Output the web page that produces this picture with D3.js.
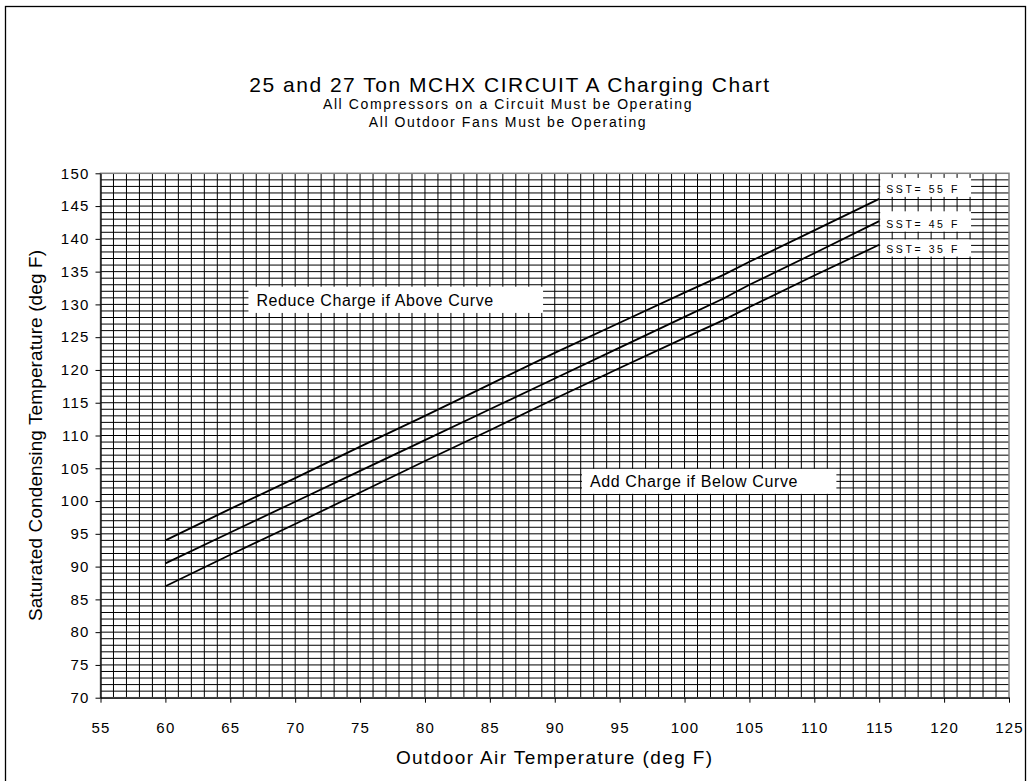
<!DOCTYPE html>
<html>
<head>
<meta charset="utf-8">
<script src="https://cdn.jsdelivr.net/npm/d3@7"></script>
<style>
  body { margin: 0; background: #fff; }
  svg { display: block; font-family: "Liberation Sans", Arial, sans-serif; }
</style>
</head>
<body>
<div id="chart"></div>
<script>
// chart data
const oat = [60, 65, 70, 75, 80, 85, 90, 95, 100, 103, 105, 110, 115];
const sst35 = [87.0, 91.8, 96.5, 101.3, 106.1, 110.8, 115.6, 120.3, 124.9, 127.6, 129.6, 134.4, 139.1];
const sst45 = [90.5, 95.2, 99.9, 104.6, 109.3, 114.0, 118.7, 123.4, 128.1, 130.9, 133.0, 137.8, 142.7];
const sst55 = [94.0, 98.8, 103.5, 108.3, 113.0, 117.8, 122.6, 127.2, 131.8, 134.5, 136.5, 141.3, 146.1];
const seriesNames = ["SST= 55 F", "SST= 45 F", "SST= 35 F"];

const xTicks = d3.range(55, 126, 5);
const yTicks = d3.range(70, 151, 5);

// annotation boxes, in data units [x1, x2, yTop, yBottom]
const seriesLabelBoxes = [
  [115, 122.0, 149.3, 146.4],
  [115, 122.0, 144.2, 141.1],
  [115, 122.0, 139.9, 137.3]
];
const noteTexts = ["Reduce Charge if Above Curve", "Add Charge if Below Curve"];
const noteBoxes = [
  [66.4, 89.1, 132.7, 128.7],
  [92.1, 111.7, 104.9, 101.1]
];

const width = 1032, height = 781;
const margin = { top: 173.3, right: 23, bottom: 83.3, left: 100.5 };

const svg = d3.select("#chart").append("svg")
  .attr("width", width)
  .attr("height", height);

// outer frame
svg.append("rect")
  .attr("x", 5.5).attr("y", 6.5)
  .attr("width", 1020).attr("height", 790)
  .attr("fill", "none")
  .attr("stroke", "#000")
  .attr("stroke-width", 1.3);

const x = d3.scaleLinear()
  .domain([55, 125])
  .range([margin.left, width - margin.right]);

const y = d3.scaleLinear()
  .domain([70, 150])
  .range([height - margin.bottom, margin.top]);

// titles
svg.append("text")
  .attr("x", 510).attr("y", 92)
  .attr("text-anchor", "middle")
  .attr("font-size", 21)
  .attr("letter-spacing", 1.5)
  .text("25 and 27 Ton MCHX CIRCUIT A Charging Chart");

svg.append("text")
  .attr("x", 508).attr("y", 109)
  .attr("text-anchor", "middle")
  .attr("font-size", 14)
  .attr("letter-spacing", 1.6)
  .text("All Compressors on a Circuit Must be Operating");

svg.append("text")
  .attr("x", 508).attr("y", 126.5)
  .attr("text-anchor", "middle")
  .attr("font-size", 14)
  .attr("letter-spacing", 1.6)
  .text("All Outdoor Fans Must be Operating");

// grid, one line per degree
const grid = svg.append("g").attr("class", "grid");

grid.selectAll("line.v")
  .data(d3.range(56, 125))
  .join("line")
  .attr("class", "v")
  .attr("x1", d => x(d)).attr("x2", d => x(d))
  .attr("y1", y(70)).attr("y2", y(150))
  .attr("stroke", "#000")
  .attr("stroke-width", 1);

grid.selectAll("line.h")
  .data(d3.range(71, 150))
  .join("line")
  .attr("class", "h")
  .attr("x1", x(55)).attr("x2", x(125))
  .attr("y1", d => y(d)).attr("y2", d => y(d))
  .attr("stroke", "#000")
  .attr("stroke-width", 1);

// plot border (top/right grey)
svg.append("rect")
  .attr("x", x(55)).attr("y", y(150))
  .attr("width", x(125) - x(55))
  .attr("height", y(70) - y(150))
  .attr("fill", "none")
  .attr("stroke", "#808080")
  .attr("stroke-width", 1.5);

// axes
const xAxis = d3.axisBottom(x).tickValues(xTicks).tickSize(5).tickSizeOuter(0).tickPadding(20);
const yAxis = d3.axisLeft(y).tickValues(yTicks).tickSize(5).tickSizeOuter(0).tickPadding(6);

const xAxisGroup = svg.append("g")
  .attr("transform", `translate(0, ${y(70)})`)
  .call(xAxis);

const yAxisGroup = svg.append("g")
  .attr("transform", `translate(${x(55)}, 0)`)
  .call(yAxis);

[xAxisGroup, yAxisGroup].forEach(g => {
  g.select(".domain").attr("stroke", "#000").attr("stroke-width", 1.3);
  g.selectAll(".tick line").attr("stroke", "#000");
  g.selectAll(".tick text")
    .attr("font-family", "Liberation Sans, Arial, sans-serif")
    .attr("font-size", 15)
    .attr("letter-spacing", 1.2)
    .attr("fill", "#000");
});

svg.append("text")
  .attr("x", (x(55) + x(125)) / 2)
  .attr("y", 764)
  .attr("text-anchor", "middle")
  .attr("font-size", 19)
  .attr("letter-spacing", 1.4)
  .text("Outdoor Air Temperature (deg F)");

svg.append("text")
  .attr("transform", `translate(42, ${(y(70) + y(150)) / 2}) rotate(-90)`)
  .attr("text-anchor", "middle")
  .attr("font-size", 19)
  .attr("letter-spacing", 0.1)
  .text("Saturated Condensing Temperature (deg F)");

// curves
const line = d3.line()
  .x((d, i) => x(oat[i]))
  .y(d => y(d));

svg.selectAll("path.curve")
  .data([sst55, sst45, sst35])
  .join("path")
  .attr("class", "curve")
  .attr("d", line)
  .attr("fill", "none")
  .attr("stroke", "#000")
  .attr("stroke-width", 1.8);

// series labels
seriesLabelBoxes.forEach((b, i) => {
  svg.append("rect")
    .attr("x", x(b[0]) + 1).attr("y", y(b[2]))
    .attr("width", x(b[1]) - x(b[0]))
    .attr("height", y(b[3]) - y(b[2]))
    .attr("fill", "#fff");
  svg.append("text")
    .attr("x", x(b[0]) + 7)
    .attr("y", y(b[3]) - 4)
    .attr("font-size", 10.5)
    .attr("letter-spacing", 2.6)
    .text(seriesNames[i]);
});

// notes
noteBoxes.forEach((b, i) => {
  svg.append("rect")
    .attr("x", x(b[0])).attr("y", y(b[2]))
    .attr("width", x(b[1]) - x(b[0]))
    .attr("height", y(b[3]) - y(b[2]))
    .attr("fill", "#fff");
  svg.append("text")
    .attr("x", x(b[0]) + 8)
    .attr("y", y(b[3]) - 7)
    .attr("font-size", 16)
    .attr("letter-spacing", 0.6)
    .text(noteTexts[i]);
});
</script>
</body>
</html>
